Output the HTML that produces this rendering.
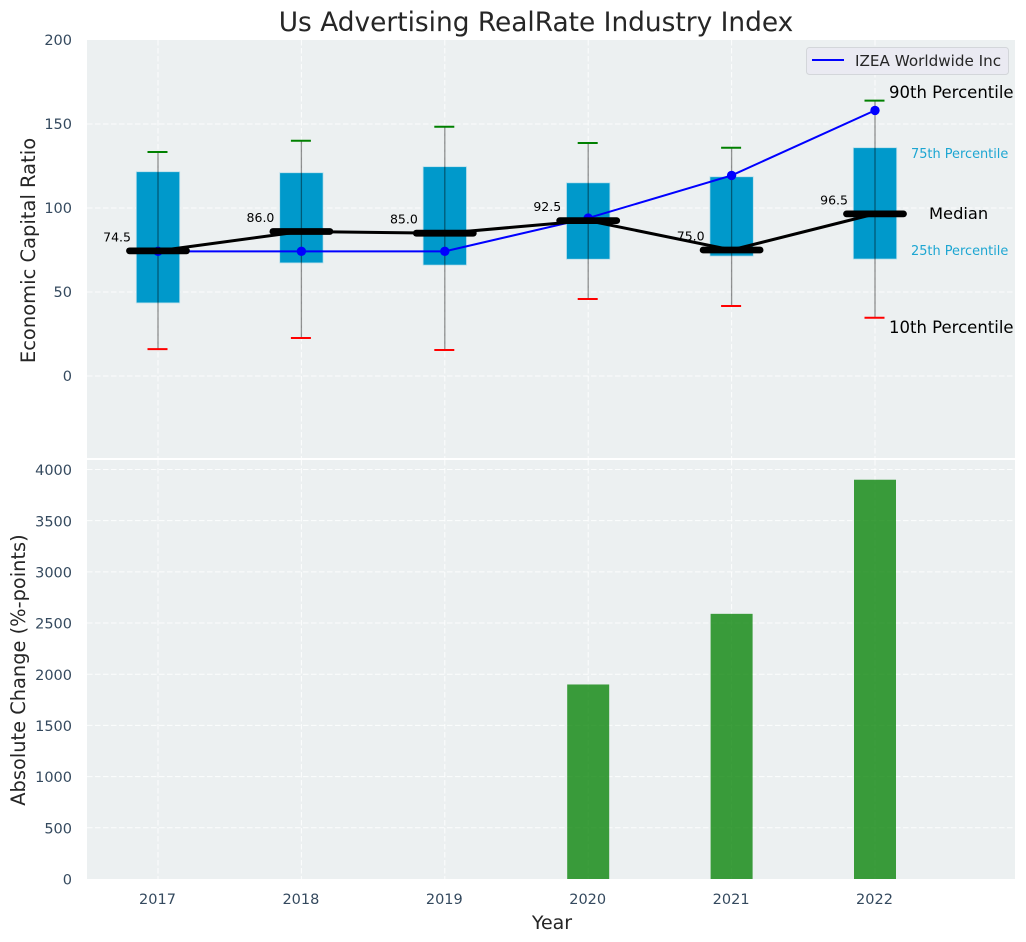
<!DOCTYPE html>
<html>
<head>
<meta charset="utf-8">
<title>Us Advertising RealRate Industry Index</title>
<style>
html,body{margin:0;padding:0;background:#fff;}
svg{display:block;font-family:"DejaVu Sans","Liberation Sans",sans-serif;}
</style>
</head>
<body>
<svg id="chart" width="1026" height="942" viewBox="0 0 1026 942" xmlns="http://www.w3.org/2000/svg">
<text x="536" y="31" text-anchor="middle" font-size="26.4" fill="#262626">Us Advertising RealRate Industry Index</text>
<rect x="87" y="40" width="928" height="418" fill="#ecf0f1"/>
<rect x="87" y="460" width="928" height="419" fill="#ecf0f1"/>
<g id="grid"></g>
<g id="bars"></g>
<g id="boxes"></g>
<g id="ticks"></g>
<text transform="translate(35,250.5) rotate(-90)" text-anchor="middle" font-size="19.5" fill="#262626">Economic Capital Ratio</text>
<text transform="translate(25,670) rotate(-90)" text-anchor="middle" font-size="19.4" fill="#262626">Absolute Change (%-points)</text>
<text x="552" y="929" text-anchor="middle" font-size="19" fill="#262626">Year</text>
<g>
<rect x="806.5" y="47.5" width="202" height="27" rx="3" fill="#eaeaf2" stroke="#d3d6da"/>
<line x1="812" y1="60" x2="844" y2="60" stroke="#0000ff" stroke-width="2"/>
<text x="855" y="66" font-size="15.2" fill="#262626">IZEA Worldwide Inc</text>
</g>
<text x="889" y="98" font-size="16.5" fill="#000">90th Percentile</text>
<text x="911" y="158" font-size="12.9" fill="#1da6d2">75th Percentile</text>
<text x="929" y="219" font-size="16.3" fill="#000">Median</text>
<text x="911" y="255" font-size="12.9" fill="#1da6d2">25th Percentile</text>
<text x="889" y="333" font-size="16.5" fill="#000">10th Percentile</text>
<script>
var years = [2017, 2018, 2019, 2020, 2021, 2022];
var p10 = [16, 22.6, 15.5, 45.8, 41.7, 34.7];
var p25 = [43.5, 67.3, 66, 69.5, 71.4, 69.6];
var medians = [74.5, 86, 85, 92.5, 75, 96.5];
var p75 = [121.6, 121, 124.6, 115, 118.6, 135.9];
var p90 = [133.3, 140, 148.4, 138.7, 135.9, 163.9];
var companyValues = [74.2, 74.2, 74.2, 94, 119.4, 158.1];
var absoluteChange = [null, null, null, 1900, 2590, 3900];
var topTicks = [0, 50, 100, 150, 200];
var bottomTicks = [0, 500, 1000, 1500, 2000, 2500, 3000, 3500, 4000];

function xScale(year) { return 158 + (year - 2017) * 143.4; }
function yTop(v) { return 376 - v * 1.68; }
function yBottom(v) { return 879 - v * 0.10238; }

var NS = 'http://www.w3.org/2000/svg';
function mk(parent, tag, attrs, text) {
  var el = document.createElementNS(NS, tag);
  for (var k in attrs) el.setAttribute(k, attrs[k]);
  if (text !== undefined) el.textContent = text;
  parent.appendChild(el);
  return el;
}
var grid = document.getElementById('grid');
var bars = document.getElementById('bars');
var boxes = document.getElementById('boxes');
var ticks = document.getElementById('ticks');
var gridStyle = {stroke: '#ffffff', 'stroke-width': 1, 'stroke-dasharray': '5.5 2.5', 'stroke-opacity': 0.85};
function gridLine(x1, y1, x2, y2) {
  var attrs = {x1: x1, y1: y1, x2: x2, y2: y2};
  for (var k in gridStyle) attrs[k] = gridStyle[k];
  var el = mk(grid, 'line', attrs);
  
  
}

topTicks.forEach(function (t) {
  var y = yTop(t);
  if (t < 200) gridLine(87, y, 1015, y);
  var el = mk(ticks, 'text', {x: 72, y: y + 5.2, 'text-anchor': 'end', 'font-size': 14.5, fill: '#34495e'}, String(t));
  
  
});
bottomTicks.forEach(function (t) {
  var y = yBottom(t);
  if (t > 0) gridLine(87, y, 1015, y);
  var el = mk(ticks, 'text', {x: 72, y: y + 5.6, 'text-anchor': 'end', 'font-size': 14.5, fill: '#34495e'}, String(t));
  
  
});
years.forEach(function (yr) {
  var x = xScale(yr);
  gridLine(x, 40, x, 458);
  gridLine(x, 460, x, 879);
  var el = mk(ticks, 'text', {x: x - 0.5, y: 904, 'text-anchor': 'middle', 'font-size': 14.5, fill: '#34495e'}, String(yr));
  
  
});

years.forEach(function (yr, i) {
  if (absoluteChange[i] === null) return;
  var x = xScale(yr);
  var top = yBottom(absoluteChange[i]);
  var el = mk(bars, 'rect', {x: x - 21, y: top, width: 42, height: yBottom(0) - top, fill: '#008000', 'fill-opacity': 0.76});
  
  
});

years.forEach(function (yr, i) {
  var x = xScale(yr);
  var top = yTop(p75[i]);
  var el = mk(boxes, 'rect', {x: x - 21.7, y: top, width: 43.4, height: yTop(p25[i]) - top, fill: '#0099cb', stroke: '#b9dfeb', 'stroke-width': 0.8});
  
  
});
years.forEach(function (yr, i) {
  var x = xScale(yr);
  var w = mk(boxes, 'line', {x1: x, y1: yTop(p10[i]), x2: x, y2: yTop(p90[i]), stroke: '#000', 'stroke-opacity': 0.42, 'stroke-width': 1.3});
  
  
  var hi = mk(boxes, 'line', {x1: x - 10.5, y1: yTop(p90[i]), x2: x + 9.5, y2: yTop(p90[i]), stroke: '#008000', 'stroke-width': 2});
  
  
  var lo = mk(boxes, 'line', {x1: x - 10.5, y1: yTop(p10[i]), x2: x + 9.5, y2: yTop(p10[i]), stroke: '#ff0000', 'stroke-width': 2});
  
  
});

var bluePts = years.map(function (yr, i) { return xScale(yr) + ',' + yTop(companyValues[i]); }).join(' ');
var blue = mk(boxes, 'polyline', {points: bluePts, fill: 'none', stroke: '#0000ff', 'stroke-width': 2});


years.forEach(function (yr, i) {
  var c = mk(boxes, 'circle', {cx: xScale(yr), cy: yTop(companyValues[i]), r: 4.7, fill: '#0000ff'});
  
  
});

var medPts = years.map(function (yr, i) { return xScale(yr) + ',' + yTop(medians[i]); }).join(' ');
var med = mk(boxes, 'polyline', {points: medPts, fill: 'none', stroke: '#000', 'stroke-width': 3});


years.forEach(function (yr, i) {
  var x = xScale(yr);
  var y = yTop(medians[i]);
  var m = mk(boxes, 'line', {x1: x - 28.5, y1: y, x2: x + 28.5, y2: y, stroke: '#000', 'stroke-width': 6.8, 'stroke-linecap': 'round'});
  
  
  var t = mk(boxes, 'text', {x: x - 27, y: y - 9.5, 'text-anchor': 'end', 'font-size': 12.5, fill: '#000'}, medians[i].toFixed(1));
  
  
});
</script>
</svg>
</body>
</html>
